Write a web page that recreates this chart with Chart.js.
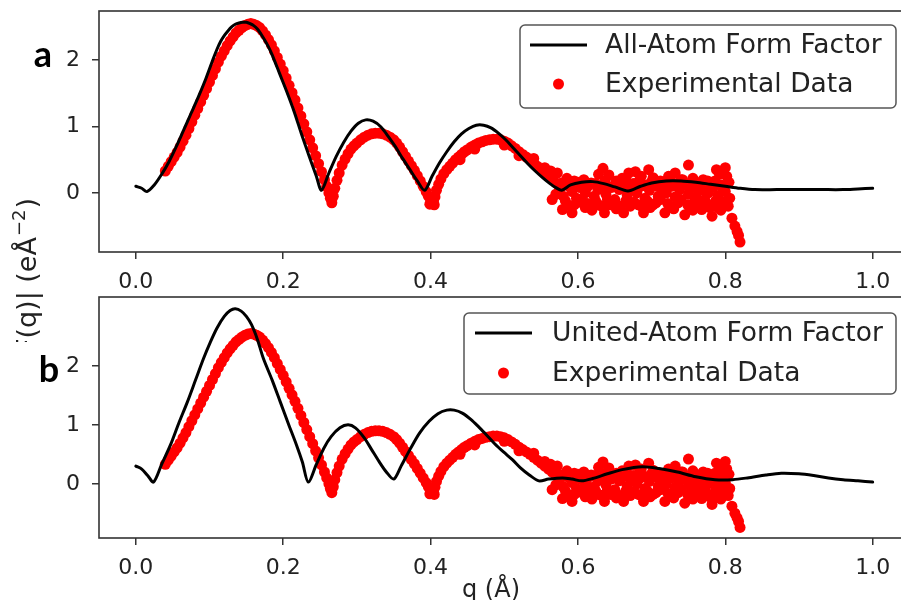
<!DOCTYPE html>
<html>
<head>
<meta charset="utf-8">
<script src="https://cdn.jsdelivr.net/npm/chart.js@4.4.1/dist/chart.umd.min.js"></script>
<style>
  html, body { margin: 0; padding: 0; background: #fff; overflow: hidden; width: 901px; height: 600px; }
  .panel { position: absolute; left: 0; top: 0; }
</style>
</head>
<body>
<canvas id="chartA" class="panel" width="915" height="600"></canvas>
<canvas id="chartB" class="panel" width="915" height="600"></canvas>
<script>
// Two stacked form factor panels: model curve vs. experimental |F(q)|.

// ====== DATA ======

const xTicks = [0, 0.2, 0.4, 0.6, 0.8, 1.0];
const yTicks = [0, 1, 2];

const allAtomQ = [0, 0.008, 0.015, 0.025, 0.035, 0.045, 0.055, 0.065, 0.075, 0.085, 0.095, 0.105, 0.110, 0.115, 0.120, 0.125, 0.130, 0.135, 0.140, 0.145, 0.150, 0.155, 0.160, 0.165, 0.170, 0.175, 0.180, 0.185, 0.195, 0.205, 0.215, 0.225, 0.235, 0.245, 0.252, 0.262, 0.272, 0.282, 0.292, 0.302, 0.312, 0.322, 0.332, 0.342, 0.352, 0.362, 0.372, 0.382, 0.392, 0.402, 0.412, 0.422, 0.432, 0.442, 0.452, 0.462, 0.472, 0.482, 0.492, 0.502, 0.512, 0.522, 0.532, 0.542, 0.552, 0.562, 0.570, 0.578, 0.590, 0.605, 0.620, 0.635, 0.650, 0.668, 0.685, 0.700, 0.720, 0.740, 0.760, 0.780, 0.800, 0.820, 0.840, 0.870, 0.900, 0.930, 0.960, 0.980, 1.000];
const allAtomF = [0.10, 0.07, 0.02, 0.12, 0.28, 0.47, 0.70, 0.95, 1.20, 1.45, 1.72, 2.02, 2.16, 2.28, 2.37, 2.44, 2.50, 2.54, 2.56, 2.57, 2.57, 2.55, 2.52, 2.47, 2.39, 2.30, 2.20, 2.08, 1.80, 1.52, 1.22, 0.88, 0.56, 0.25, 0.04, 0.30, 0.55, 0.76, 0.93, 1.05, 1.10, 1.08, 1.00, 0.86, 0.70, 0.52, 0.35, 0.18, 0.04, 0.25, 0.45, 0.62, 0.77, 0.89, 0.97, 1.02, 1.02, 0.98, 0.90, 0.80, 0.68, 0.56, 0.44, 0.33, 0.23, 0.14, 0.08, 0.04, 0.12, 0.16, 0.17, 0.14, 0.09, 0.03, 0.10, 0.15, 0.18, 0.18, 0.16, 0.13, 0.10, 0.07, 0.05, 0.05, 0.05, 0.05, 0.05, 0.06, 0.07];

const unitedAtomQ = [0, 0.008, 0.016, 0.024, 0.035, 0.047, 0.058, 0.070, 0.081, 0.092, 0.101, 0.110, 0.120, 0.128, 0.135, 0.143, 0.150, 0.157, 0.165, 0.173, 0.185, 0.196, 0.207, 0.218, 0.226, 0.234, 0.245, 0.255, 0.265, 0.277, 0.288, 0.298, 0.310, 0.320, 0.330, 0.340, 0.350, 0.360, 0.372, 0.385, 0.398, 0.410, 0.422, 0.432, 0.443, 0.455, 0.465, 0.475, 0.487, 0.499, 0.511, 0.522, 0.534, 0.547, 0.560, 0.579, 0.592, 0.605, 0.620, 0.640, 0.660, 0.687, 0.710, 0.735, 0.760, 0.786, 0.810, 0.830, 0.855, 0.876, 0.900, 0.920, 0.940, 0.960, 0.980, 1.000];
const unitedAtomF = [0.30, 0.25, 0.14, 0.03, 0.33, 0.66, 1.02, 1.39, 1.76, 2.13, 2.40, 2.64, 2.84, 2.94, 2.97, 2.93, 2.84, 2.70, 2.45, 2.13, 1.76, 1.39, 1.02, 0.66, 0.37, 0.03, 0.33, 0.60, 0.80, 0.95, 1.00, 0.95, 0.78, 0.58, 0.38, 0.20, 0.08, 0.30, 0.58, 0.86, 1.06, 1.19, 1.25, 1.25, 1.20, 1.09, 0.97, 0.84, 0.68, 0.54, 0.41, 0.27, 0.15, 0.05, 0.08, 0.10, 0.08, 0.05, 0.09, 0.17, 0.24, 0.29, 0.26, 0.20, 0.12, 0.07, 0.07, 0.10, 0.15, 0.18, 0.17, 0.14, 0.10, 0.07, 0.05, 0.03];

// experimental data (same set in both panels)
const expQ = [
  0.040, 0.044, 0.048, 0.052, 0.056, 0.060, 0.064, 0.068, 0.072, 0.076, 0.080, 0.084, 0.088, 0.092, 0.096, 0.100,
  0.104, 0.108, 0.112, 0.116, 0.120, 0.124, 0.128, 0.132, 0.136, 0.140, 0.144, 0.148, 0.152, 0.156, 0.160, 0.164,
  0.168, 0.172, 0.176, 0.180, 0.184, 0.188, 0.192, 0.196, 0.200, 0.204, 0.208, 0.212, 0.216, 0.220, 0.224, 0.228,
  0.232, 0.236, 0.240, 0.244, 0.248, 0.252, 0.256, 0.259, 0.262, 0.264, 0.266, 0.268, 0.270, 0.273, 0.276, 0.280,
  0.284, 0.288, 0.292, 0.296, 0.300, 0.305, 0.310, 0.315, 0.320, 0.325, 0.330, 0.335, 0.340, 0.345, 0.350, 0.354,
  0.358, 0.362, 0.366, 0.370, 0.374, 0.378, 0.382, 0.386, 0.390, 0.394, 0.397, 0.400, 0.402, 0.404, 0.406, 0.408,
  0.411, 0.414, 0.418, 0.422, 0.426, 0.430, 0.434, 0.438, 0.442, 0.446, 0.450, 0.455, 0.460, 0.465, 0.470, 0.475,
  0.480, 0.485, 0.490, 0.495, 0.500, 0.505, 0.510, 0.515, 0.520, 0.525, 0.530, 0.535, 0.540, 0.545, 0.550, 0.555,
  0.560, 0.565, 0.570,
  0.266, 0.399, 0.405, 0.440, 0.460, 0.500, 0.520, 0.540, 0.555, 0.563,
  // noisy tail: upper
  0.572, 0.585, 0.595, 0.608, 0.618, 0.628, 0.634, 0.642, 0.652, 0.660, 0.669, 0.678, 0.686, 0.696, 0.702, 0.712,
  0.723, 0.732, 0.740, 0.750, 0.756, 0.765, 0.776, 0.788, 0.792, 0.797, 0.800, 0.802,
  // upper middle
  0.578, 0.590, 0.600, 0.612, 0.624, 0.637, 0.648, 0.658, 0.665, 0.675, 0.683, 0.693, 0.700, 0.708, 0.717, 0.725,
  0.735, 0.742, 0.748, 0.758, 0.763, 0.770, 0.780, 0.786, 0.794, 0.805,
  // middle
  0.575, 0.580, 0.588, 0.592, 0.598, 0.603, 0.610, 0.615, 0.622, 0.627, 0.633, 0.638, 0.645, 0.650, 0.656, 0.662,
  0.667, 0.673, 0.680, 0.685, 0.691, 0.697, 0.705, 0.709, 0.715, 0.720, 0.727, 0.732, 0.738, 0.744, 0.750, 0.755,
  0.760, 0.766, 0.771, 0.777, 0.783, 0.790, 0.795, 0.800, 0.806,
  // lower middle
  0.570, 0.583, 0.595, 0.605, 0.613, 0.624, 0.632, 0.640, 0.648, 0.657, 0.665, 0.676, 0.686, 0.694, 0.702, 0.712,
  0.722, 0.730, 0.740, 0.749, 0.756, 0.763, 0.772, 0.779, 0.787, 0.794, 0.801,
  // lower
  0.565, 0.579, 0.586, 0.592, 0.601, 0.610, 0.619, 0.628, 0.636, 0.644, 0.652, 0.662, 0.671, 0.682, 0.689, 0.698,
  0.706, 0.718, 0.726, 0.736, 0.745, 0.752, 0.759, 0.768, 0.775, 0.782, 0.790, 0.797, 0.804, 0.809, 0.813, 0.816,
  0.818, 0.820
];
const expF = [
  0.33, 0.40, 0.47, 0.54, 0.61, 0.69, 0.78, 0.87, 0.97, 1.07, 1.17, 1.27, 1.37, 1.47, 1.57, 1.67,
  1.77, 1.87, 1.97, 2.06, 2.14, 2.22, 2.29, 2.35, 2.41, 2.45, 2.49, 2.52, 2.54, 2.55, 2.54, 2.52,
  2.49, 2.44, 2.38, 2.31, 2.23, 2.14, 2.04, 1.94, 1.84, 1.73, 1.62, 1.51, 1.40, 1.28, 1.16, 1.04,
  0.92, 0.80, 0.68, 0.56, 0.44, 0.32, 0.20, 0.10, 0.00, -0.08, -0.10, -0.05, 0.07, 0.19, 0.30, 0.42,
  0.51, 0.59, 0.66, 0.71, 0.75, 0.80, 0.84, 0.87, 0.89, 0.90, 0.90, 0.89, 0.87, 0.84, 0.80, 0.75,
  0.69, 0.62, 0.55, 0.48, 0.41, 0.34, 0.26, 0.18, 0.10, 0.02, -0.05, -0.10, -0.14, -0.12, -0.06, 0.04,
  0.13, 0.21, 0.29, 0.35, 0.40, 0.45, 0.50, 0.54, 0.58, 0.62, 0.65, 0.69, 0.72, 0.75, 0.77, 0.79,
  0.80, 0.81, 0.81, 0.80, 0.78, 0.75, 0.71, 0.67, 0.62, 0.58, 0.54, 0.50, 0.45, 0.40, 0.35, 0.30,
  0.25, 0.20, 0.15,
  -0.15, -0.17, -0.18, 0.50, 0.66, 0.72, 0.56, 0.52, 0.38, 0.33,
  0.30, 0.22, 0.18, 0.20, 0.15, 0.28, 0.37, 0.27, 0.18, 0.22, 0.30, 0.32, 0.25, 0.35, 0.23, 0.18,
  0.25, 0.30, 0.20, 0.42, 0.22, 0.15, 0.18, 0.35, 0.28, 0.32, 0.38, 0.25,
  0.15, 0.12, 0.16, 0.08, 0.14, 0.18, 0.10, 0.15, 0.20, 0.14, 0.18, 0.12, 0.17, 0.10, 0.16, 0.20,
  0.14, 0.20, 0.12, 0.17, 0.10, 0.20, 0.14, 0.18, 0.12, 0.16,
  0.05, -0.05, 0.10, 0.02, -0.08, 0.08, 0.00, 0.12, -0.05, 0.05, 0.10, -0.02, 0.08, -0.10, 0.05, 0.12,
  -0.04, 0.06, 0.00, 0.10, -0.08, 0.04, 0.12, -0.05, 0.06, 0.00, 0.10, -0.06, 0.05, 0.12, -0.02, 0.08,
  -0.06, 0.04, 0.12, 0.00, 0.08, -0.04, 0.10, 0.02, -0.08,
  -0.02, -0.12, -0.18, -0.10, -0.16, -0.12, -0.20, -0.10, -0.16, -0.20, -0.12, -0.14, -0.20, -0.12, -0.18, -0.10,
  -0.16, -0.24, -0.10, -0.18, -0.26, -0.16, -0.10, -0.22, -0.12, -0.26, -0.12,
  -0.10, -0.25, -0.18, -0.30, -0.14, -0.22, -0.26, -0.18, -0.30, -0.18, -0.24, -0.30, -0.20, -0.18, -0.30, -0.22,
  -0.15, -0.30, -0.20, -0.15, -0.33, -0.22, -0.10, -0.25, -0.16, -0.35, -0.22, -0.15, -0.20, -0.38, -0.50, -0.58,
  -0.64, -0.74
];

// y title pieces: main text, superscript, closing bracket
const yTitleParts = ['|F(q)| (eÅ', '−2', ')'];
const xTitle = 'q (Å)';

// ====== HELPERS ======

const FONT = '"DejaVu Sans", sans-serif';
const INK = '#222';

function toPoints(qs, fs) {
  const n = Math.min(qs.length, fs.length);
  const pts = [];
  for (let i = 0; i < n; i++) pts.push({ x: qs[i], y: fs[i] });
  return pts;
}

// matplotlib-like frame on all four sides
const framePlugin = {
  id: 'frame',
  afterDatasetsDraw(chart) {
    const { ctx, chartArea: a } = chart;
    ctx.save();
    ctx.strokeStyle = '#333';
    ctx.lineWidth = 1.6;
    ctx.strokeRect(a.left, a.top, a.right - a.left, a.bottom - a.top);
    ctx.restore();
  }
};

// legend box inside the axes, like plt.legend()
const boxLegendPlugin = {
  id: 'boxLegend',
  afterDraw(chart, args, opts) {
    const { ctx } = chart;
    const [x0, y0, x1, y1] = opts.box;
    ctx.save();
    ctx.beginPath();
    ctx.roundRect(x0, y0, x1 - x0, y1 - y0, 5);
    ctx.fillStyle = '#fff';
    ctx.fill();
    ctx.strokeStyle = '#555';
    ctx.lineWidth = 1.5;
    ctx.stroke();
    ctx.font = `26.5px ${FONT}`;
    ctx.textBaseline = 'middle';
    chart.data.datasets.forEach((ds, i) => {
      const y = opts.rows[i];
      const [h0, h1] = opts.handle;
      if (ds.showLine) {
        ctx.beginPath();
        ctx.moveTo(h0, y);
        ctx.lineTo(h1, y);
        ctx.strokeStyle = ds.borderColor;
        ctx.lineWidth = ds.borderWidth;
        ctx.stroke();
      } else {
        ctx.beginPath();
        ctx.arc((h0 + h1) / 2, y, ds.pointRadius, 0, Math.PI * 2);
        ctx.fillStyle = ds.backgroundColor;
        ctx.fill();
      }
      ctx.fillStyle = INK;
      ctx.fillText(ds.label, opts.textX, y + 1);
    });
    ctx.restore();
  }
};

// panel letters and the shared axis titles
const annotPlugin = {
  id: 'annot',
  afterDraw(chart, args, opts) {
    const { ctx } = chart;
    ctx.save();
    ctx.fillStyle = '#000';
    ctx.font = 'bold 36px Lato, sans-serif';
    ctx.textAlign = 'center';
    ctx.textBaseline = 'alphabetic';
    ctx.fillText(opts.letter, opts.letterPos[0], opts.letterPos[1]);
    ctx.fillStyle = INK;
    if (opts.yTitle) {
      const [main, sup, close] = opts.yTitle;
      const big = `27px ${FONT}`, small = `18px ${FONT}`;
      ctx.font = big;
      const w1 = ctx.measureText(main).width;
      const w3 = ctx.measureText(close).width;
      ctx.font = small;
      const w2 = ctx.measureText(sup).width + 2;
      const total = w1 + w2 + w3;
      ctx.save();
      ctx.beginPath();
      ctx.rect(0, 0, 60, 342);   // the lower part of the label is hidden in the source figure
      ctx.clip();
      ctx.translate(36, 198 + total);
      ctx.rotate(-Math.PI / 2);
      ctx.textAlign = 'left';
      ctx.font = big;
      ctx.fillText(main, 0, 0);
      ctx.font = small;
      ctx.fillText(sup, w1 + 1, -11);
      ctx.font = big;
      ctx.fillText(close, w1 + w2, 0);
      ctx.restore();
    }
    if (opts.xTitle) {
      ctx.font = `24px ${FONT}`;
      ctx.textAlign = 'center';
      ctx.fillText(opts.xTitle, 491, 597);
    }
    ctx.restore();
  }
};

function makePanel(id, cfg) {
  return new Chart(document.getElementById(id), {
    type: 'scatter',
    data: {
      datasets: [
        {
          label: cfg.lineLabel,
          data: toPoints(cfg.lineQ, cfg.lineF),
          showLine: true,
          borderColor: '#000',
          backgroundColor: '#000',
          borderWidth: 3,
          borderJoinStyle: 'round',
          borderCapStyle: 'round',
          pointRadius: 0,
          tension: 0.3,
        },
        {
          label: 'Experimental Data',
          data: toPoints(expQ, expF),
          showLine: false,
          backgroundColor: '#ff0000',
          pointRadius: 5.5,
          pointHoverRadius: 5.5,
          pointBorderWidth: 0,
        }
      ]
    },
    options: {
      responsive: false,
      animation: false,
      events: [],
      layout: { padding: { left: 0, right: 3, top: cfg.top, bottom: cfg.bottom } },
      plugins: {
        legend: { display: false },
        tooltip: { enabled: false },
        boxLegend: cfg.legend,
        annot: cfg.annot,
      },
      scales: {
        x: {
          type: 'linear', min: -0.05, max: 1.05,
          afterBuildTicks: s => { s.ticks = xTicks.map(v => ({ value: v })); },
          afterFit: s => { s.height = 40; s.paddingLeft = 0; s.paddingRight = 0; },
          border: { display: false },
          grid: { drawOnChartArea: false, drawTicks: true, tickLength: 7, color: '#333', lineWidth: 1.5 },
          ticks: { padding: 10, color: INK, font: { family: FONT, size: 22 }, maxRotation: 0,
                   callback: v => v.toFixed(1) },
        },
        y: {
          type: 'linear', min: cfg.yMin, max: cfg.yMax,
          afterBuildTicks: s => { s.ticks = yTicks.map(v => ({ value: v })); },
          afterFit: s => { s.width = 99; s.paddingTop = 0; s.paddingBottom = 0; },
          border: { display: false },
          grid: { drawOnChartArea: false, drawTicks: true, tickLength: 7, color: '#333', lineWidth: 1.5 },
          ticks: { padding: 12, color: INK, font: { family: FONT, size: 22 }, callback: v => String(v) },
        }
      }
    },
    plugins: [framePlugin, boxLegendPlugin, annotPlugin]
  });
}

// ====== INIT ======

makePanel('chartA', {
  lineQ: allAtomQ, lineF: allAtomF, lineLabel: 'All-Atom Form Factor',
  yMin: -0.89, yMax: 2.74, top: 11, bottom: 600 - 252 - 40,
  legend: { box: [520, 25, 896, 108], rows: [45, 84], handle: [530, 587], textX: 605 },
  annot: { letter: 'a', letterPos: [43, 67], yTitle: yTitleParts },
});

makePanel('chartB', {
  lineQ: unitedAtomQ, lineF: unitedAtomF, lineLabel: 'United-Atom Form Factor',
  yMin: -0.92, yMax: 3.17, top: 297, bottom: 600 - 538 - 40,
  legend: { box: [464, 313, 896, 394], rows: [333, 373], handle: [475, 532], textX: 552 },
  annot: { letter: 'b', letterPos: [49, 382], xTitle: xTitle },
});
</script>
</body>
</html>
